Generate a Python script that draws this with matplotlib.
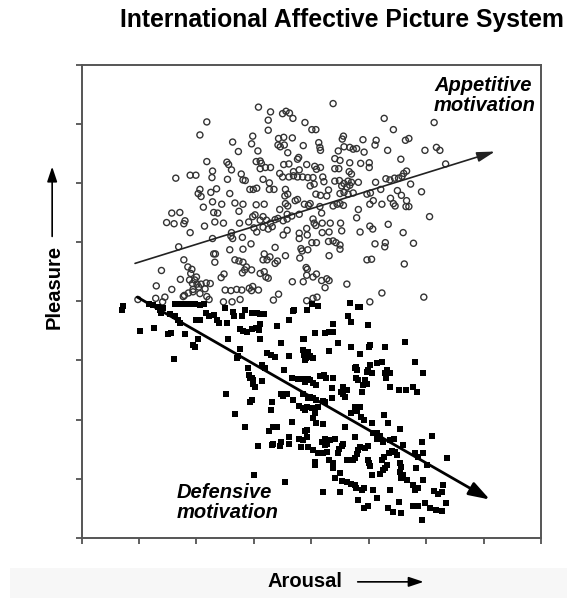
import matplotlib
matplotlib.use("Agg")
import matplotlib.pyplot as plt
from matplotlib.patches import Rectangle, FancyArrowPatch

plt.rcParams['font.family'] = ['Liberation Sans', 'DejaVu Sans']

# IAPS ratings (1-9 scale): pleasant pictures (open circles)
appetitive_arousal = [
    4.08, 4.29, 4.50, 4.56, 4.62, 4.68, 3.18, 4.25, 4.89, 3.06,
    4.25, 3.63, 3.98, 3.96, 4.43, 4.52, 4.67, 4.42, 4.46, 4.53,
    3.73, 4.07, 4.59, 3.18, 3.53, 3.56, 4.04, 4.11, 4.13, 4.78,
    4.76, 4.52, 4.61, 3.28, 3.61, 4.11, 4.20, 4.29, 4.45, 4.69,
    4.79, 2.64, 2.89, 2.99, 3.27, 3.78, 3.81, 3.54, 4.16, 4.50,
    4.61, 4.69, 4.76, 4.85, 4.94, 3.06, 3.03, 3.08, 3.25, 3.35,
    3.58, 3.93, 3.99, 4.05, 4.27, 4.35, 3.85, 4.27, 4.55, 4.59,
    4.54, 4.76, 4.72, 3.12, 3.28, 3.30, 3.37, 3.44, 3.67, 3.74,
    3.81, 4.04, 4.18, 4.55, 4.59, 4.58, 4.45, 4.88, 4.95, 2.57,
    2.71, 2.48, 2.61, 2.78, 2.80, 2.89, 3.14, 3.32, 3.47, 3.61,
    3.75, 3.91, 3.98, 4.02, 4.11, 4.16, 4.00, 4.05, 4.22, 4.29,
    4.37, 4.42, 4.51, 4.58, 4.16, 4.25, 4.32, 4.66, 4.79, 4.51,
    4.58, 4.79, 4.79, 4.92, 4.93, 3.28, 3.60, 3.63, 3.80, 3.95,
    4.37, 2.69, 3.30, 3.32, 3.58, 3.81, 3.67, 3.74, 3.81, 3.87,
    3.84, 3.80, 3.96, 4.11, 4.18, 4.21, 4.25, 4.18, 4.16, 4.23,
    4.28, 4.37, 4.41, 4.55, 4.82, 4.84, 4.94, 4.80, 4.91, 4.93,
    4.92, 4.67, 4.86, 4.43, 2.78, 2.39, 2.85, 2.92, 2.90, 2.72,
    2.88, 2.97, 3.00, 2.93, 3.01, 2.94, 3.04, 3.08, 2.30, 2.57,
    2.79, 2.86, 3.17, 3.43, 3.48, 3.50, 3.60, 3.70, 3.79, 3.92,
    3.98, 3.96, 4.08, 2.29, 2.45, 3.18, 3.22, 1.98, 2.41, 2.77,
    3.47, 3.62, 3.76, 4.34, 4.92, 3.15, 3.24, 3.33, 2.94, 3.06,
    5.38, 6.27, 7.14, 6.43, 5.01, 5.08, 5.56, 5.54, 5.90, 6.13,
    6.11, 6.64, 6.70, 4.86, 5.13, 5.15, 5.16, 5.57, 5.67, 5.73,
    5.79, 5.47, 5.92, 6.33, 6.98, 7.18, 7.24, 5.41, 5.50, 5.67,
    5.86, 6.01, 6.01, 6.56, 7.34, 4.92, 5.06, 5.09, 5.16, 5.41,
    5.48, 5.66, 5.70, 5.03, 5.20, 5.22, 5.41, 5.49, 5.57, 5.64,
    5.70, 5.82, 4.98, 5.05, 5.53, 5.62, 5.67, 6.12, 6.30, 6.37,
    6.45, 6.52, 6.58, 6.61, 6.66, 6.73, 6.92, 6.21, 5.08, 5.16,
    5.30, 5.27, 5.50, 5.57, 5.64, 5.73, 5.97, 6.03, 6.50, 6.57,
    4.98, 5.15, 5.18, 5.38, 5.45, 5.50, 5.56, 5.82, 6.02, 6.08,
    6.23, 6.38, 6.43, 6.66, 6.65, 6.70, 7.06, 5.03, 5.05, 5.08,
    5.19, 5.31, 5.19, 5.33, 5.51, 5.53, 5.79, 5.85, 6.02, 6.07,
    6.34, 6.60, 5.01, 5.09, 5.30, 5.38, 5.43, 5.50, 5.50, 5.31,
    6.11, 6.29, 6.28, 6.78, 5.97, 6.05, 6.62, 5.03, 5.09, 5.18,
    5.27, 5.31, 5.24, 5.62, 6.23, 6.96, 5.03, 5.10, 6.02, 6.46,
]
appetitive_pleasure = [
    8.28, 8.20, 8.17, 8.21, 8.18, 8.09, 8.03, 8.06, 8.02, 7.81,
    7.89, 7.69, 7.79, 7.66, 7.75, 7.77, 7.76, 7.64, 7.61, 7.64,
    7.53, 7.54, 7.51, 7.36, 7.35, 7.31, 7.36, 7.37, 7.33, 7.43,
    7.40, 7.31, 7.32, 7.20, 7.22, 7.24, 7.26, 7.26, 7.16, 7.19,
    7.22, 7.08, 7.13, 7.13, 7.09, 7.15, 7.05, 7.06, 7.06, 7.10,
    7.10, 7.12, 7.10, 7.10, 7.09, 6.89, 6.82, 6.77, 6.84, 6.90,
    6.82, 6.89, 6.89, 6.91, 6.89, 6.89, 7.04, 7.00, 6.89, 6.81,
    6.78, 6.72, 6.70, 6.59, 6.68, 6.50, 6.49, 6.64, 6.66, 6.52,
    6.64, 6.63, 6.64, 6.65, 6.61, 6.47, 6.55, 6.64, 6.62, 6.49,
    6.50, 6.33, 6.31, 6.31, 6.36, 6.16, 6.27, 6.34, 6.32, 6.16,
    6.32, 6.34, 6.43, 6.46, 6.37, 6.43, 6.24, 6.17, 6.37, 6.32,
    6.38, 6.40, 6.36, 6.39, 6.25, 6.22, 6.26, 6.44, 6.47, 6.12,
    6.20, 6.15, 6.06, 6.23, 6.12, 6.06, 6.10, 6.06, 6.08, 5.97,
    5.91, 5.92, 5.80, 5.66, 5.87, 5.88, 5.70, 5.68, 5.66, 5.58,
    5.53, 5.48, 5.53, 5.47, 5.50, 5.41, 5.39, 5.80, 5.70, 5.70,
    5.75, 5.64, 5.68, 5.77, 5.89, 5.85, 5.87, 5.73, 5.57, 5.54,
    5.44, 5.33, 5.33, 5.12, 5.70, 5.52, 5.58, 5.54, 5.47, 5.37,
    5.36, 5.36, 5.41, 5.30, 5.29, 5.20, 5.24, 5.29, 5.26, 5.20,
    5.10, 5.14, 5.31, 5.40, 5.46, 5.19, 5.18, 5.20, 5.19, 5.22,
    5.25, 5.18, 5.19, 5.05, 5.07, 5.08, 5.03, 5.03, 4.99, 5.08,
    4.99, 4.99, 5.03, 5.02, 5.01, 5.21, 5.30, 5.80, 5.16, 5.13,
    8.34, 8.09, 8.02, 7.90, 7.90, 7.90, 7.79, 7.74, 7.73, 7.72,
    7.64, 7.72, 7.75, 7.63, 7.68, 7.60, 7.55, 7.61, 7.60, 7.57,
    7.58, 7.54, 7.52, 7.55, 7.55, 7.60, 7.55, 7.41, 7.38, 7.34,
    7.33, 7.34, 7.26, 7.40, 7.32, 7.31, 7.28, 7.23, 7.26, 7.24,
    7.24, 7.19, 7.15, 7.09, 7.10, 7.02, 7.03, 7.04, 6.99, 7.03,
    7.01, 7.01, 6.95, 6.98, 6.95, 6.93, 6.96, 7.01, 7.07, 7.05,
    7.08, 7.08, 7.11, 7.16, 7.20, 6.98, 6.85, 6.89, 6.81, 6.79,
    6.88, 6.78, 6.82, 6.84, 6.81, 6.83, 6.81, 6.83, 6.87, 6.79,
    6.65, 6.60, 6.49, 6.61, 6.64, 6.65, 6.62, 6.55, 6.64, 6.70,
    6.64, 6.74, 6.65, 6.70, 6.60, 6.60, 6.43, 6.39, 6.32, 6.28,
    6.16, 6.17, 6.32, 6.32, 6.32, 6.19, 6.41, 6.17, 6.27, 6.22,
    6.30, 6.16, 5.99, 5.99, 6.01, 6.02, 5.99, 5.95, 5.88, 5.77,
    5.97, 5.99, 5.92, 5.98, 5.70, 5.71, 5.63, 5.41, 5.46, 5.35,
    5.38, 5.35, 5.23, 5.29, 5.14, 5.07, 5.05, 5.07, 4.99, 6.61,
]

# unpleasant pictures (filled squares)
defensive_arousal = [
    1.70, 1.72, 2.02, 2.26, 2.18, 2.25, 2.33, 2.36, 2.39, 2.42,
    2.51, 2.55, 2.63, 2.71, 2.80, 2.89, 2.97, 3.06, 3.13, 2.54,
    2.63, 2.67, 2.71, 2.80, 2.94, 2.97, 2.61, 3.03, 2.99, 3.06,
    3.17, 3.21, 3.30, 3.36, 3.40, 3.50, 3.53, 3.55, 3.64, 3.65,
    3.79, 3.76, 3.81, 3.88, 3.96, 4.04, 4.09, 4.11, 4.05, 4.11,
    4.18, 3.84, 3.96, 4.11, 3.76, 3.73, 3.70, 3.90, 3.92, 3.96,
    3.99, 3.98, 3.93, 4.02, 4.14, 4.19, 4.22, 4.29, 4.37, 4.41,
    4.47, 4.62, 4.69, 4.62, 4.52, 4.66, 4.76, 4.85, 4.94, 4.86,
    4.89, 4.95, 4.95, 4.14, 3.51, 3.94, 3.97, 3.67, 3.84, 4.08,
    4.27, 4.34, 4.41, 4.29, 4.31, 4.47, 4.50, 4.57, 4.31, 4.34,
    4.45, 4.47, 4.62, 4.62, 4.66, 4.69, 4.79, 4.85, 4.93, 4.79,
    4.86, 4.92, 4.82, 4.95, 4.89, 4.00, 4.54, 4.97, 4.92, 4.70,
    5.01, 5.12, 5.67, 5.85, 5.64, 5.70, 5.37, 5.06, 5.24, 5.30,
    5.38, 5.99, 4.87, 5.47, 5.30, 5.70, 5.84, 6.01, 6.02, 6.28,
    6.63, 4.86, 4.87, 4.91, 4.97, 5.03, 4.89, 5.78, 5.76, 5.80,
    6.03, 6.15, 6.24, 6.81, 5.97, 5.99, 6.05, 5.94, 5.97, 5.90,
    5.78, 5.82, 6.28, 6.32, 6.37, 6.30, 6.37, 6.52, 6.65, 6.78,
    6.85, 6.94, 4.89, 4.98, 5.03, 5.09, 5.16, 5.22, 5.26, 5.38,
    5.36, 5.56, 5.62, 5.55, 5.51, 5.59, 5.88, 4.86, 4.95, 5.03,
    5.09, 5.21, 5.24, 5.36, 4.89, 5.01, 5.06, 5.03, 5.12, 5.09,
    5.21, 5.76, 5.84, 5.79, 5.70, 5.86, 5.91, 6.26, 6.34, 5.59,
    5.76, 6.05, 6.08, 6.14, 6.20, 6.15, 6.25, 6.37, 6.55, 6.44,
    6.60, 7.10, 6.92, 4.92, 5.24, 5.33, 5.41, 5.18, 5.24, 5.28,
    5.03, 5.12, 5.21, 5.27, 5.06, 5.06, 5.30, 5.38, 5.38, 5.49,
    5.53, 5.56, 5.47, 5.62, 5.67, 5.73, 5.76, 5.79, 5.82, 5.85,
    5.94, 5.99, 5.99, 6.01, 6.02, 6.23, 6.27, 6.36, 6.40, 6.46,
    6.49, 6.32, 6.28, 6.55, 6.57, 6.81, 6.86, 6.95, 7.01, 7.36,
    6.82, 5.50, 5.41, 5.53, 5.62, 5.70, 5.76, 5.78, 5.91, 6.05,
    6.20, 6.25, 6.55, 6.60, 6.66, 6.57, 6.78, 6.81, 6.86, 6.95,
    7.13, 7.20, 7.27, 7.29, 5.21, 5.50, 5.88, 6.08, 6.37, 6.14,
    5.82, 5.91, 5.99, 6.34, 6.43, 6.57, 6.52, 6.78, 6.86, 6.98,
    7.07, 7.18, 7.27, 7.35, 6.92, 5.82,
]
defensive_pleasure = [
    4.85, 4.92, 4.50, 4.54, 4.95, 4.94, 4.91, 4.85, 4.81, 4.88,
    4.45, 4.47, 4.95, 4.95, 4.95, 4.95, 4.95, 4.94, 4.96, 4.78,
    4.75, 4.69, 4.64, 4.45, 4.26, 4.22, 4.02, 4.37, 4.68, 4.68,
    4.81, 4.75, 4.77, 4.68, 4.63, 4.88, 4.63, 4.37, 4.82, 4.75,
    4.75, 4.53, 4.50, 4.48, 4.53, 4.54, 4.51, 4.61, 4.80, 4.78,
    4.78, 4.85, 4.81, 4.37, 4.20, 4.07, 4.04, 3.88, 3.75, 3.71,
    3.67, 3.60, 3.71, 3.55, 3.92, 3.87, 4.13, 4.09, 4.06, 4.58,
    4.30, 4.69, 4.84, 4.07, 3.84, 3.70, 3.68, 3.68, 3.68, 4.36,
    4.12, 4.15, 4.06, 3.66, 3.44, 3.29, 3.33, 3.09, 2.87, 2.55,
    2.80, 2.88, 2.87, 3.17, 3.30, 3.44, 3.40, 3.43, 2.57, 2.59,
    2.55, 2.63, 2.71, 2.59, 2.96, 3.33, 3.23, 3.19, 3.21, 2.67,
    2.66, 2.71, 2.54, 2.54, 2.80, 2.06, 1.95, 3.38, 4.85, 4.85,
    4.95, 4.92, 4.97, 4.91, 4.75, 4.65, 4.61, 4.47, 4.47, 4.48,
    4.48, 4.60, 4.37, 4.29, 4.16, 4.22, 4.11, 4.23, 4.26, 4.22,
    4.32, 4.18, 4.09, 4.04, 4.07, 4.04, 4.01, 3.89, 3.87, 3.84,
    3.92, 3.96, 3.98, 3.98, 3.81, 3.84, 3.79, 3.67, 3.60, 3.58,
    3.70, 3.67, 3.79, 3.84, 3.78, 3.71, 3.55, 3.50, 3.50, 3.55,
    3.47, 3.78, 3.64, 3.67, 3.62, 3.58, 3.74, 3.75, 3.71, 3.71,
    3.53, 3.56, 3.50, 3.44, 3.47, 3.39, 3.47, 3.44, 3.36, 3.36,
    3.33, 3.32, 3.29, 3.36, 3.16, 3.19, 3.12, 3.02, 3.21, 2.94,
    2.93, 3.21, 3.22, 3.15, 3.11, 3.05, 2.99, 3.08, 2.94, 2.87,
    2.71, 2.95, 2.78, 2.77, 2.72, 2.68, 2.63, 2.66, 2.84, 2.68,
    2.57, 2.72, 2.63, 2.82, 2.68, 2.66, 2.68, 2.63, 2.57, 2.59,
    2.49, 2.44, 2.43, 2.46, 2.29, 2.23, 2.32, 2.26, 2.19, 2.50,
    2.55, 2.59, 2.43, 2.32, 2.31, 2.32, 2.36, 2.42, 2.49, 2.54,
    2.52, 2.55, 2.32, 2.26, 2.22, 2.32, 2.37, 2.44, 2.47, 2.46,
    2.40, 2.23, 2.18, 2.27, 2.20, 2.44, 2.37, 2.43, 2.23, 2.36,
    2.18, 2.10, 2.01, 1.97, 1.95, 1.92, 1.90, 1.84, 1.84, 2.06,
    2.09, 2.15, 2.12, 2.06, 1.98, 2.01, 1.90, 1.81, 1.84, 1.98,
    1.80, 1.74, 1.78, 1.90, 1.78, 1.77, 1.81, 1.81, 1.81, 1.67,
    1.65, 1.50, 1.54, 1.50, 1.44, 1.42, 1.61, 1.54, 1.54, 1.59,
    1.50, 1.47, 1.46, 1.59, 1.30, 4.91,
]

# regression trends: (arousal, pleasure) at start and end
appetitive_trend = [(1.93, 5.64), (8.20, 7.53)]
defensive_trend = [(1.97, 5.07), (8.11, 1.65)]

fig = plt.figure(figsize=(5.67, 5.98), dpi=100)
fig.patches.append(Rectangle((0.018, 0.0), 0.982, 0.05, transform=fig.transFigure,
                             facecolor='#f7f7f7', edgecolor='none', zorder=0))
ax = fig.add_axes([0.144, 0.1003, 0.81, 0.7918])

ax.scatter(appetitive_arousal, appetitive_pleasure, s=19, facecolors='none',
           edgecolors='#333333', linewidths=1.0, zorder=3)
ax.scatter(defensive_arousal, defensive_pleasure, s=20, marker='s',
           color='black', linewidths=0, zorder=3)

ax.annotate('', xy=appetitive_trend[1], xytext=appetitive_trend[0],
            arrowprops=dict(arrowstyle='-|>,head_length=0.9,head_width=0.25',
                            mutation_scale=12, color='#222222', lw=1.2,
                            shrinkA=0, shrinkB=0), zorder=4)
ax.annotate('', xy=defensive_trend[1], xytext=defensive_trend[0],
            arrowprops=dict(arrowstyle='-|>,head_length=0.9,head_width=0.3',
                            mutation_scale=14, color='black', lw=2.0,
                            shrinkA=0, shrinkB=0), zorder=4)

ax.text(7.14, 8.80, 'Appetitive\nmotivation', ha='left', va='top',
        fontsize=14.5, fontweight='bold', fontstyle='italic', linespacing=1.05)
ax.text(2.66, 1.93, 'Defensive\nmotivation', ha='left', va='top',
        fontsize=14.5, fontweight='bold', fontstyle='italic', linespacing=1.05)

ax.set_xlim(1, 9)
ax.set_ylim(1, 9)
ax.set_xticks(range(1, 10))
ax.set_yticks(range(1, 10))
ax.set_xticklabels([])
ax.set_yticklabels([])
ax.tick_params(direction='out', length=4, width=1.2, color='#444444')
for sp in ax.spines.values():
    sp.set_linewidth(1.4)
    sp.set_color('#555555')

fig.text(0.603, 0.966, 'International Affective Picture System', ha='center',
         va='center', fontsize=17.8, fontweight='bold')

# axis names with direction arrows
fig.text(0.538, 0.027, 'Arousal', ha='center', va='center', fontsize=14.5,
         fontweight='bold')
fig.patches.append(FancyArrowPatch(
    (0.626, 0.027), (0.752, 0.027), transform=fig.transFigure,
    arrowstyle='-|>,head_length=0.9,head_width=0.3', mutation_scale=10,
    color='black', lw=1.2))
fig.text(0.095, 0.52, 'Pleasure', ha='center', va='center', rotation=90,
         fontsize=14.5, fontweight='bold')
fig.patches.append(FancyArrowPatch(
    (0.092, 0.6), (0.092, 0.726), transform=fig.transFigure,
    arrowstyle='-|>,head_length=0.9,head_width=0.3', mutation_scale=10,
    color='black', lw=1.2))

fig.savefig('out.png', dpi=100)
